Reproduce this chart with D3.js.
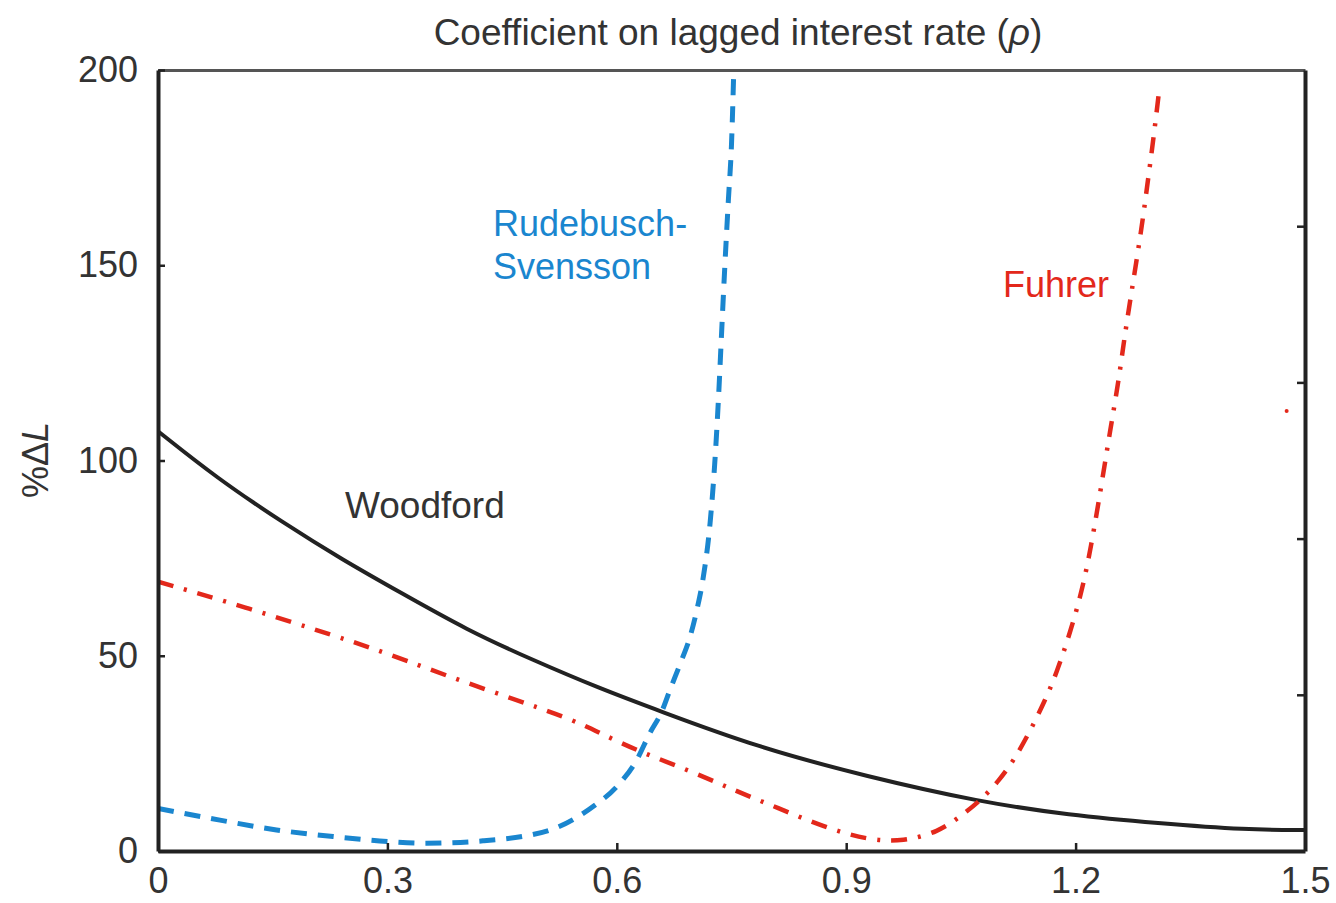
<!DOCTYPE html>
<html>
<head>
<meta charset="utf-8">
<script src="https://cdn.jsdelivr.net/npm/d3@7"></script>
<style>
  body { margin: 0; background: #fff; }
  text { font-family: "Liberation Sans", Arial, sans-serif; }
</style>
</head>
<body>
<div class="chart"></div>
<script>
// Chart values
var xTicks = [0, 0.3, 0.6, 0.9, 1.2, 1.5];
var yTicks = [0, 50, 100, 150, 200];
var yTicksRight = [40, 80, 120, 160];

var woodfordRho  = [0, 0.077, 0.164, 0.242, 0.316, 0.404, 0.49, 0.578, 0.654, 0.782, 0.928, 1.074, 1.191, 1.308, 1.424, 1.5];
var woodfordLoss = [107.5, 95.5, 84, 74.5, 66.3, 56.6, 48.9, 41.6, 36, 26.7, 19, 12.6, 9.2, 7.1, 5.4, 5.4];

var rsRho  = [0, 0.081, 0.155, 0.229, 0.303, 0.351, 0.425, 0.513, 0.569, 0.6, 0.626, 0.643, 0.659, 0.67, 0.683, 0.696, 0.705, 0.713, 0.722, 0.728, 0.733, 0.737, 0.741, 0.746, 0.75, 0.753];
var rsLoss = [10.9, 7.9, 5.4, 3.7, 2.4, 2.0, 2.6, 5.4, 11.4, 16.5, 23.3, 30.1, 35.8, 41.5, 48, 55, 62, 70, 84, 99, 116, 132.5, 148.7, 167, 181, 200];

var fuhrerRho  = [0, 0.12, 0.234, 0.295, 0.404, 0.534, 0.578, 0.63, 0.694, 0.753, 0.811, 0.87, 0.928, 0.975, 1.021, 1.05, 1.074, 1.1, 1.12, 1.14, 1.16, 1.175, 1.193, 1.21, 1.223, 1.234, 1.245, 1.256, 1.264, 1.273, 1.286, 1.293, 1.302, 1.31];
var fuhrerLoss = [69, 62.1, 54.9, 51, 42.9, 34.4, 30.2, 25.4, 20.7, 15.6, 11, 6.2, 2.8, 2.4, 4.9, 9, 12.6, 18, 23.5, 30.5, 38.5, 45.5, 56, 67.7, 81, 94, 107.5, 120, 131.7, 143, 159, 169.4, 182.6, 196];

// stray fragment of the Fuhrer line near the right edge
var fuhrerStrayRho = [1.476];
var fuhrerStrayLoss = [112.7];

var svgWidth = 1336;
var svgHeight = 903;

var margin = { top: 70, right: 31, bottom: 52, left: 158 };
var width = svgWidth - margin.left - margin.right;
var height = svgHeight - margin.top - margin.bottom;

var svg = d3.select(".chart")
    .append("svg")
    .attr("width", svgWidth)
    .attr("height", svgHeight);

var chartGroup = svg.append("g")
    .attr("transform", `translate(${margin.left}, ${margin.top})`);

var xScale = d3.scaleLinear().domain([0, 1.5]).range([0, width]);
var yScale = d3.scaleLinear().domain([0, 200]).range([height, 0]);

// clip the curves to the plot box
svg.append("defs").append("clipPath")
    .attr("id", "plotClip")
    .append("rect")
    .attr("width", width)
    .attr("height", height);

var line = d3.line()
    .x(d => xScale(d[0]))
    .y(d => yScale(d[1]))
    .curve(d3.curveMonotoneX);

var smoothLine = d3.line()
    .x(d => xScale(d[0]))
    .y(d => yScale(d[1]))
    .curve(d3.curveBasis);

function pairs(xs, ys) {
    return xs.map((x, i) => [x, ys[i]]);
}

var curves = chartGroup.append("g").attr("clip-path", "url(#plotClip)");

curves.append("path")
    .datum(pairs(woodfordRho, woodfordLoss))
    .attr("d", smoothLine)
    .attr("fill", "none")
    .attr("stroke", "#222")
    .attr("stroke-width", 4);

curves.append("path")
    .datum(pairs(fuhrerRho, fuhrerLoss))
    .attr("d", smoothLine)
    .attr("fill", "none")
    .attr("stroke", "#e3281b")
    .attr("stroke-width", 4.5)
    .attr("stroke-dasharray", "16,11,3,11");

curves.selectAll(".stray")
    .data(pairs(fuhrerStrayRho, fuhrerStrayLoss))
    .enter()
    .append("circle")
    .attr("class", "stray")
    .attr("cx", d => xScale(d[0]))
    .attr("cy", d => yScale(d[1]))
    .attr("r", 2)
    .attr("fill", "#e3281b");

curves.append("path")
    .datum(pairs(rsRho, rsLoss))
    .attr("d", line)
    .attr("fill", "none")
    .attr("stroke", "#1a86cf")
    .attr("stroke-width", 5)
    .attr("stroke-dasharray", "16,11");

// Axes
var bottomAxis = d3.axisBottom(xScale)
    .tickValues(xTicks)
    .tickFormat(d => d3.format("")(d))
    .tickSizeInner(-8)
    .tickSizeOuter(0)
    .tickPadding(16);

var leftAxis = d3.axisLeft(yScale)
    .tickValues(yTicks)
    .tickSizeInner(-7)
    .tickSizeOuter(0)
    .tickPadding(20);

var rightAxis = d3.axisRight(yScale)
    .tickValues(yTicksRight)
    .tickSizeInner(-8)
    .tickSizeOuter(0)
    .tickFormat("");

var topAxis = d3.axisTop(xScale).tickValues([]).tickSizeOuter(0);

chartGroup.append("g")
    .attr("class", "axis top")
    .call(topAxis);

chartGroup.append("g")
    .attr("class", "axis")
    .attr("transform", `translate(${width}, 0)`)
    .call(rightAxis);

chartGroup.append("g")
    .attr("class", "axis")
    .attr("transform", `translate(0, ${height})`)
    .call(bottomAxis);

chartGroup.append("g")
    .attr("class", "axis")
    .call(leftAxis);

chartGroup.selectAll(".axis .domain")
    .attr("stroke", "#222")
    .attr("stroke-width", 4);

chartGroup.select(".axis.top .domain")
    .attr("stroke", "#555")
    .attr("stroke-width", 3);

chartGroup.selectAll(".axis .tick line")
    .attr("stroke", "#222")
    .attr("stroke-width", 2.5);

chartGroup.selectAll(".axis text")
    .attr("fill", "#333")
    .style("font-size", "36px");

// Title
var title = svg.append("text")
    .attr("x", 738)
    .attr("y", 45)
    .attr("text-anchor", "middle")
    .attr("fill", "#333")
    .style("font-size", "37px");
title.append("tspan").text("Coefficient on lagged interest rate (");
title.append("tspan").attr("font-style", "italic").text("ρ");
title.append("tspan").text(")");

// y axis label
var yLabel = svg.append("text")
    .attr("transform", "translate(48, 460) rotate(-90)")
    .attr("text-anchor", "middle")
    .attr("fill", "#333")
    .style("font-size", "36px");
yLabel.append("tspan").text("%Δ");
yLabel.append("tspan").attr("font-style", "italic").text("L");

// Series labels
svg.append("text")
    .attr("x", 345).attr("y", 518)
    .attr("fill", "#333")
    .style("font-size", "37px")
    .text("Woodford");

svg.append("text")
    .attr("x", 493).attr("y", 236)
    .attr("fill", "#1a86cf")
    .style("font-size", "36px")
    .text("Rudebusch-");

svg.append("text")
    .attr("x", 493).attr("y", 279)
    .attr("fill", "#1a86cf")
    .style("font-size", "36px")
    .text("Svensson");

svg.append("text")
    .attr("x", 1003).attr("y", 297)
    .attr("fill", "#e3281b")
    .style("font-size", "36px")
    .text("Fuhrer");
</script>
</body>
</html>
